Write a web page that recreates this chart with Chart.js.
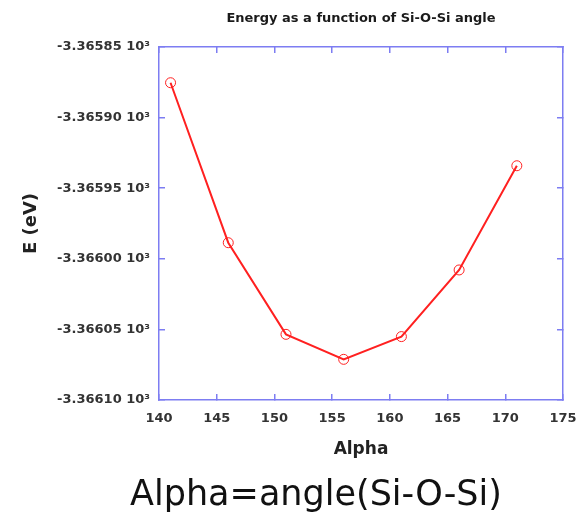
<!DOCTYPE html>
<html>
  <head>
    <title>Energy vs Si-O-Si angle</title>
    <meta name="viewport" content="width=device-width, initial-scale=1.0">
    <style>
      body {
        margin: 0;
        background: #fff;
        font-family: 'DejaVu Sans', sans-serif;
      }

      #wrap {
        position: relative;
        width: 579px;
        height: 515px;
      }

      #caption {
        position: absolute;
        left: 316px;
        top: 476px;
        transform: translateX(-50%);
        font-size: 35px;
        line-height: 35px;
        white-space: nowrap;
        color: #111;
      }
    </style>
  </head>
  <body>
    <div id="wrap">
      <canvas id="chart" width="579" height="515"></canvas>
      <div id="caption">Alpha=angle(Si-O-Si)</div>
    </div>
    <script src="https://cdn.jsdelivr.net/npm/chart.js@4.4.1/dist/chart.umd.min.js"></script>
    <script>
      // Si-O-Si angle (degrees) and total energy (eV)
      const angles = [141, 146, 151, 156, 161, 166, 171];
      const energies = [-3365.8753, -3365.9886, -3366.0535, -3366.0712, -3366.0551, -3366.0079, -3365.9341];

      const xMin = 140, xMax = 175, xStep = 5;
      const yMin = -3366.10, yMax = -3365.85, yStep = 0.05;

      const axisBlue = '#7d7df2';
      const red = '#ff2020';
      const labelFont = { family: 'DejaVu Sans', size: 13, weight: 'bold' };

      // inward tick marks only, no grid inside the plot
      const innerTicks = {
        drawOnChartArea: false,
        drawTicks: true,
        tickLength: -6,
        color: axisBlue,
        lineWidth: 1.5
      };
      const frame = { color: axisBlue, width: 1.5 };

      // fixed axis sizes; the end labels may hang past the frame
      const fixHeight = (h) => (scale) => {
        scale.height = h;
        scale.paddingLeft = 0;
        scale.paddingRight = 0;
      };
      const fixWidth = (w) => (scale) => {
        scale.width = w;
        scale.paddingTop = 0;
        scale.paddingBottom = 0;
      };

      const points = angles.map((a, i) => ({ x: a, y: energies[i] }));

      const ctx = document.getElementById('chart').getContext('2d');
      let chart = new Chart(ctx, {
        type: 'line',
        data: {
          datasets: [{
            label: 'E',
            data: points,
            borderColor: red,
            borderWidth: 2,
            backgroundColor: 'transparent',
            pointStyle: 'circle',
            pointRadius: 5,
            pointBorderWidth: 1,
            pointBorderColor: red,
            pointBackgroundColor: 'transparent',
            tension: 0
          }]
        },
        options: {
          responsive: false,
          animation: false,
          layout: { padding: { left: 0, right: 0, top: 0, bottom: 55 } },
          plugins: {
            legend: { display: false },
            tooltip: { enabled: false },
            title: {
              display: true,
              fullSize: false,
              text: 'Energy as a function of Si-O-Si angle',
              color: '#1a1a1a',
              font: { family: 'DejaVu Sans', size: 13, weight: 'bold' },
              padding: { top: 11, bottom: 20.4 }
            }
          },
          scales: {
            x: {
              type: 'linear',
              position: 'bottom',
              min: xMin,
              max: xMax,
              grid: innerTicks,
              border: frame,
              ticks: {
                stepSize: xStep,
                color: '#333',
                font: labelFont,
                padding: 17,
                maxRotation: 0
              },
              title: {
                display: true,
                text: 'Alpha',
                color: '#222',
                font: { family: 'DejaVu Sans', size: 17, weight: 'bold' },
                padding: { top: 0, bottom: 0 }
              },
              afterFit: fixHeight(60)
            },
            x2: {
              type: 'linear',
              position: 'top',
              min: xMin,
              max: xMax,
              grid: innerTicks,
              border: frame,
              ticks: { stepSize: xStep, display: false },
              afterFit: fixHeight(0)
            },
            y: {
              type: 'linear',
              position: 'left',
              min: yMin,
              max: yMax,
              grid: innerTicks,
              border: frame,
              ticks: {
                stepSize: yStep,
                color: '#333',
                font: labelFont,
                padding: 15,
                callback: (v) => (v / 1000).toFixed(5) + ' 10³'
              },
              title: {
                display: true,
                text: 'E (eV)',
                color: '#222',
                font: { family: 'DejaVu Sans', size: 18, weight: 'bold' },
                padding: { top: 21, bottom: 0 }
              },
              afterFit: fixWidth(159)
            },
            y2: {
              type: 'linear',
              position: 'right',
              min: yMin,
              max: yMax,
              grid: innerTicks,
              border: frame,
              ticks: { stepSize: yStep, display: false },
              afterFit: fixWidth(16)
            }
          }
        }
      });
    </script>
  </body>
</html>
